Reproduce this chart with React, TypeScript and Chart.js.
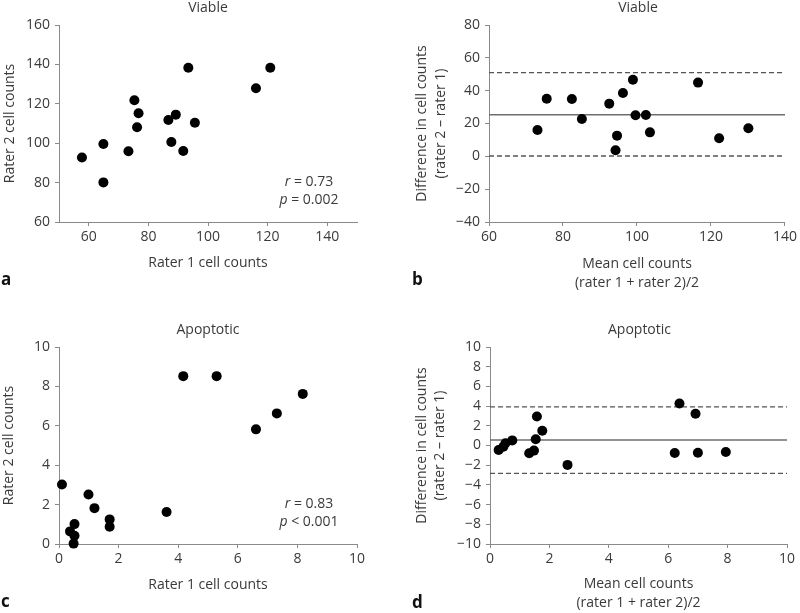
import React, { useEffect, useRef } from "react";
import { Chart, registerables } from "chart.js";

Chart.register(...registerables);

// ---------- data ----------
// Viable: rater 1 vs rater 2 (panel a)
const viableRater1 = [57.7, 64.9, 64.9, 73.3, 75.3, 76.7, 76.2, 86.7, 89.2, 87.7, 91.7, 95.6, 93.4, 116.1, 120.9];
const viableRater2 = [92.7, 99.6, 80.1, 95.9, 121.8, 115.2, 108.1, 111.8, 114.5, 100.6, 96.0, 110.4, 138.3, 127.9, 138.3];
// Viable: Bland-Altman (panel b)
const viableMean = [73.1, 75.6, 82.4, 85.1, 92.5, 96.2, 98.9, 94.6, 94.2, 99.6, 102.4, 103.5, 116.5, 122.2, 130.1];
const viableDiff = [16.0, 35.1, 34.9, 22.7, 32.1, 38.6, 46.7, 12.6, 3.7, 25.0, 25.2, 14.6, 44.9, 11.0, 17.1];
const viableBias = 25.4;
const viableUpper = 51.0;
const viableLower = 0.2;

// Apoptotic: rater 1 vs rater 2 (panel c)
const apopRater1 = [0.1, 0.37, 0.52, 0.52, 0.49, 0.99, 1.19, 1.7, 1.7, 3.61, 4.17, 5.29, 6.61, 7.31, 8.18];
const apopRater2 = [3.02, 0.64, 1.01, 0.42, 0.02, 2.51, 1.82, 1.25, 0.88, 1.62, 8.52, 8.52, 5.82, 6.63, 7.62];
// Apoptotic: Bland-Altman (panel d)
const apopMean = [0.29, 0.45, 0.52, 0.75, 1.32, 1.48, 1.54, 1.58, 1.76, 2.61, 6.22, 6.38, 6.92, 7.0, 7.94];
const apopDiff = [-0.46, -0.12, 0.22, 0.52, -0.79, -0.52, 0.63, 2.95, 1.5, -1.97, -0.76, 4.27, 3.22, -0.73, -0.66];
const apopBias = 0.55;
const apopUpper = 3.92;
const apopLower = -2.84;

// tick values
const viableRaterXTicks = [60, 80, 100, 120, 140];
const viableRaterYTicks = [60, 80, 100, 120, 140, 160];
const viableBAXTicks = [60, 80, 100, 120, 140];
const viableBAYTicks = [-40, -20, 0, 20, 40, 60, 80];
const apopRaterXTicks = [0, 2, 4, 6, 8, 10];
const apopRaterYTicks = [0, 2, 4, 6, 8, 10];
const apopBAXTicks = [0, 2, 4, 6, 8, 10];
const apopBAYTicks = [-10, -8, -6, -4, -2, 0, 2, 4, 6, 8, 10];

// ---------- style ----------
const FONT = "'Open Sans', 'DejaVu Sans', sans-serif";
const TEXT = "#3a3a3a";
const AXIS = "#8a8a8a";

type Panel = {
  key: string;
  left: number;
  top: number;
  width: number;
  height: number;
  area: { left: number; right: number; top: number; bottom: number };
  xMin: number;
  xMax: number;
  xTicks: number[];
  yMin: number;
  yMax: number;
  yTicks: number[];
  xTitle: string | string[];
  xTitlePad: number;
  yTitle: string | string[];
  yTitlePad: number;
  title: string;
  titleX: number;
  titleY: number;
  letter: string;
  letterX: number;
  letterY: number;
  xs: number[];
  ys: number[];
  lines?: { bias: number; upper: number; lower: number };
  annot?: { r: string; p: string; rel: string; cx: number; y1: number; y2: number };
};

const panels: Panel[] = [
  {
    key: "a",
    left: 0, top: 0, width: 400, height: 306,
    area: { left: 59, right: 357, top: 25, bottom: 222 },
    xMin: 50, xMax: 150, xTicks: viableRaterXTicks,
    yMin: 60, yMax: 160, yTicks: viableRaterYTicks,
    xTitle: "Rater 1 cell counts", xTitlePad: 33.8,
    yTitle: "Rater 2 cell counts", yTitlePad: 0.3,
    title: "Viable", titleX: 208, titleY: 8.5,
    letter: "a", letterX: 1, letterY: 285,
    xs: viableRater1, ys: viableRater2,
    annot: { r: "0.73", p: "0.002", rel: "=", cx: 309, y1: 182, y2: 200 },
  },
  {
    key: "b",
    left: 400, top: 0, width: 400, height: 306,
    area: { left: 89, right: 387, top: 25, bottom: 222 },
    xMin: 60, xMax: 140, xTicks: viableBAXTicks,
    yMin: -40, yMax: 80, yTicks: viableBAYTicks,
    xTitle: ["Mean cell counts", "(rater 1 + rater 2)/2"], xTitlePad: 13.8,
    yTitle: ["Difference in cell counts", "(rater 2 \u2013 rater 1)"], yTitlePad: 12.8,
    title: "Viable", titleX: 238, titleY: 8.5,
    letter: "b", letterX: 12, letterY: 285,
    xs: viableMean, ys: viableDiff,
    lines: { bias: viableBias, upper: viableUpper, lower: viableLower },
  },
  {
    key: "c",
    left: 0, top: 306, width: 400, height: 307,
    area: { left: 59, right: 357, top: 41, bottom: 238 },
    xMin: 0, xMax: 10, xTicks: apopRaterXTicks,
    yMin: 0, yMax: 10, yTicks: apopRaterYTicks,
    xTitle: "Rater 1 cell counts", xTitlePad: 18.8,
    yTitle: "Rater 2 cell counts", yTitlePad: 0,
    title: "Apoptotic", titleX: 208, titleY: 24,
    letter: "c", letterX: 1, letterY: 301,
    xs: apopRater1, ys: apopRater2,
    annot: { r: "0.83", p: "0.001", rel: "<", cx: 309, y1: 198, y2: 216 },
  },
  {
    key: "d",
    left: 400, top: 306, width: 400, height: 307,
    area: { left: 90, right: 387, top: 41, bottom: 238 },
    xMin: 0, xMax: 10, xTicks: apopBAXTicks,
    yMin: -10, yMax: 10, yTicks: apopBAYTicks,
    xTitle: ["Mean cell counts", "(rater 1 + rater 2)/2"], xTitlePad: 0.8,
    yTitle: ["Difference in cell counts", "(rater 2 \u2013 rater 1)"], yTitlePad: 12.5,
    title: "Apoptotic", titleX: 239.5, titleY: 24,
    letter: "d", letterX: 12, letterY: 302,
    xs: apopMean, ys: apopDiff,
    lines: { bias: apopBias, upper: apopUpper, lower: apopLower },
  },
];

function drawMixed(ctx: CanvasRenderingContext2D, parts: { t: string; it: boolean }[], cx: number, y: number) {
  const fonts = parts.map((p) => `${p.it ? "italic " : ""}14px ${FONT}`);
  let total = 0;
  const widths = parts.map((p, i) => {
    ctx.font = fonts[i];
    const w = ctx.measureText(p.t).width;
    total += w;
    return w;
  });
  let x = cx - total / 2;
  parts.forEach((p, i) => {
    ctx.font = fonts[i];
    ctx.fillText(p.t, x, y);
    x += widths[i];
  });
}

function makeChart(canvas: HTMLCanvasElement, p: Panel) {
  const points = p.xs.map((x, i) => ({ x, y: p.ys[i] }));
  const datasets: any[] = [
    {
      data: points,
      pointRadius: 5,
      pointHoverRadius: 5,
      pointBackgroundColor: "#000",
      pointBorderColor: "#000",
      pointBorderWidth: 0,
      showLine: false,
      clip: false,
      order: 0,
    },
  ];
  if (p.lines) {
    const seg = (v: number) => [
      { x: p.xMin, y: v },
      { x: p.xMax, y: v },
    ];
    datasets.push({
      data: seg(p.lines.bias),
      showLine: true,
      pointRadius: 0,
      borderColor: "#6e6e6e",
      borderWidth: 1.5,
      order: 1,
    });
    datasets.push({
      data: seg(p.lines.upper),
      showLine: true,
      pointRadius: 0,
      borderColor: "#555",
      borderWidth: 1.3,
      borderDash: [5, 3],
      order: 1,
    });
    datasets.push({
      data: seg(p.lines.lower),
      showLine: true,
      pointRadius: 0,
      borderColor: "#555",
      borderWidth: 1.3,
      borderDash: [5, 3],
      order: 1,
    });
  }

  const textPlugin = {
    id: "panelText" + p.key,
    afterDraw(chart: any) {
      const ctx: CanvasRenderingContext2D = chart.ctx;
      ctx.save();
      ctx.fillStyle = TEXT;
      ctx.textAlign = "center";
      ctx.textBaseline = "middle";
      ctx.font = `14px ${FONT}`;
      ctx.fillText(p.title, p.titleX, p.titleY);
      ctx.fillStyle = "#111";
      ctx.textAlign = "left";
      ctx.textBaseline = "alphabetic";
      ctx.font = `bold 17px ${FONT}`;
      ctx.fillText(p.letter, p.letterX, p.letterY);
      if (p.annot) {
        ctx.fillStyle = TEXT;
        ctx.textAlign = "left";
        ctx.textBaseline = "middle";
        drawMixed(ctx, [{ t: "r", it: true }, { t: " = " + p.annot.r, it: false }], p.annot.cx, p.annot.y1);
        drawMixed(ctx, [{ t: "p", it: true }, { t: ` ${p.annot.rel} ` + p.annot.p, it: false }], p.annot.cx, p.annot.y2);
      }
      ctx.restore();
    },
  };

  const tickFont = { family: FONT, size: 14 };
  const titleFont = { family: FONT, size: 14, lineHeight: 1.32 };

  return new Chart(canvas, {
    type: "scatter",
    data: { datasets },
    options: {
      responsive: false,
      animation: false,
      devicePixelRatio: 1,
      events: [],
      layout: {
        padding: { left: 0, right: p.width - p.area.right, top: p.area.top, bottom: 0 },
      },
      plugins: { legend: { display: false }, tooltip: { enabled: false }, title: { display: false } },
      scales: {
        x: {
          type: "linear",
          min: p.xMin,
          max: p.xMax,
          afterBuildTicks: (s: any) => {
            s.ticks = p.xTicks.map((v) => ({ value: v }));
          },
          afterFit: (s: any) => {
            s.height = p.height - p.area.bottom;
          },
          grid: { display: true, drawOnChartArea: false, drawTicks: true, tickLength: 4, color: AXIS },
          border: { display: true, color: AXIS, width: 1 },
          ticks: { font: tickFont, color: TEXT, padding: 3, maxRotation: 0, autoSkip: false },
          title: {
            display: true,
            text: p.xTitle,
            font: titleFont,
            color: TEXT,
            padding: { top: 0, bottom: p.xTitlePad },
          },
        },
        y: {
          type: "linear",
          min: p.yMin,
          max: p.yMax,
          afterBuildTicks: (s: any) => {
            s.ticks = p.yTicks.map((v) => ({ value: v }));
          },
          afterFit: (s: any) => {
            s.width = p.area.left;
          },
          grid: { display: true, drawOnChartArea: false, drawTicks: true, tickLength: 4, color: AXIS },
          border: { display: true, color: AXIS, width: 1 },
          ticks: {
            font: tickFont,
            color: TEXT,
            padding: 5,
            autoSkip: false,
            callback: (v: any) => (Number(v) < 0 ? "\u2212" + Math.abs(Number(v)) : String(v)),
          },
          title: {
            display: true,
            text: p.yTitle,
            font: titleFont,
            color: TEXT,
            padding: { top: p.yTitlePad, bottom: 0 },
          },
        },
      },
    },
    plugins: [textPlugin],
  } as any);
}

function PanelChart({ p }: { p: Panel }) {
  const ref = useRef<HTMLCanvasElement | null>(null);
  useEffect(() => {
    if (!ref.current) return;
    const chart = makeChart(ref.current, p);
    return () => chart.destroy();
  }, [p]);
  return (
    <canvas
      ref={ref}
      width={p.width}
      height={p.height}
      style={{ position: "absolute", left: p.left, top: p.top, width: p.width, height: p.height }}
    />
  );
}

export default function App() {
  return (
    <div style={{ position: "absolute", left: 0, top: 0, width: 800, height: 613, background: "#fff" }}>
      {panels.map((p) => (
        <PanelChart key={p.key} p={p} />
      ))}
    </div>
  );
}
